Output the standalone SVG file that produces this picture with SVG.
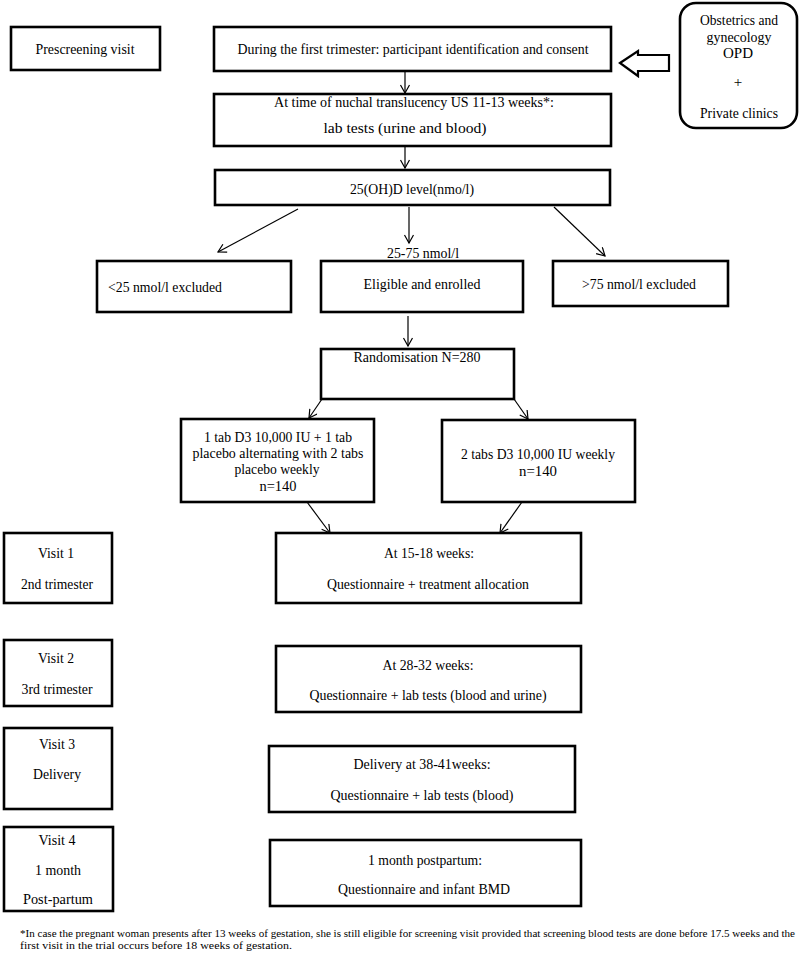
<svg xmlns="http://www.w3.org/2000/svg" width="800" height="957" viewBox="0 0 800 957">
<defs>
<style>
.box{fill:#fff;stroke:#000;stroke-width:2.6}
.t{font-family:"Liberation Serif","Times New Roman",serif;font-size:15px;fill:#000;text-anchor:middle}
.tl{font-family:"Liberation Serif","Times New Roman",serif;font-size:15px;fill:#000}
.fn{font-family:"Liberation Serif","Times New Roman",serif;font-size:11px;fill:#000}
.c{fill:none;stroke:#000;stroke-width:1.2}
</style>
<marker id="ah" markerUnits="userSpaceOnUse" markerWidth="12" markerHeight="12" refX="9" refY="5" orient="auto">
<path d="M1,0.5 L9,5 L1,9.5" fill="none" stroke="#000" stroke-width="1.2"/>
</marker>
</defs>
<rect width="800" height="957" fill="#fff"/>

<g id="connectors">
<line class="c" x1="405" y1="71" x2="405" y2="93" marker-end="url(#ah)"/>
<line class="c" x1="405" y1="118" x2="405" y2="168" marker-end="url(#ah)"/>
<line class="c" x1="298" y1="209" x2="218" y2="252" marker-end="url(#ah)"/>
<line class="c" x1="409" y1="207" x2="409" y2="243" marker-end="url(#ah)"/>
<line class="c" x1="554" y1="207" x2="605" y2="256" marker-end="url(#ah)"/>
<line class="c" x1="408" y1="316" x2="408" y2="346" marker-end="url(#ah)"/>
<line class="c" x1="322" y1="399" x2="309" y2="418" marker-end="url(#ah)"/>
<line class="c" x1="514" y1="399" x2="528" y2="419" marker-end="url(#ah)"/>
<line class="c" x1="307" y1="502" x2="330" y2="533" marker-end="url(#ah)"/>
<line class="c" x1="522" y1="502" x2="500" y2="533" marker-end="url(#ah)"/>
<polygon points="620,63 638,51 638,55 669,55 669,71 638,71 638,76" fill="#fff" stroke="#000" stroke-width="2.2"/>
</g>

<g id="prescreening">
<rect class="box" x="11" y="27" width="149" height="43"/>
<text class="t" x="85" y="54" textLength="99" lengthAdjust="spacingAndGlyphs">Prescreening visit</text>
</g>

<g id="first-trimester">
<rect class="box" x="214" y="27" width="397" height="44"/>
<text class="t" x="413" y="54" textLength="351" lengthAdjust="spacingAndGlyphs">During the first trimester: participant identification and consent</text>
</g>

<g id="obstetrics">
<rect class="box" x="680" y="3" width="117" height="125" rx="16" ry="16"/>
<text class="t" x="739" y="25" textLength="78" lengthAdjust="spacingAndGlyphs">Obstetrics and</text>
<text class="t" x="739" y="42" textLength="65" lengthAdjust="spacingAndGlyphs">gynecology</text>
<text class="t" x="738" y="58" textLength="30" lengthAdjust="spacingAndGlyphs">OPD</text>
<text class="t" x="738" y="87">+</text>
<text class="t" x="739" y="118" textLength="78" lengthAdjust="spacingAndGlyphs">Private clinics</text>
</g>

<g id="nuchal">
<rect class="box" x="214" y="94" width="397" height="52"/>
<text class="t" x="414" y="107" textLength="280" lengthAdjust="spacingAndGlyphs">At time of nuchal translucency US 11-13 weeks*:</text>
<text class="t" x="405" y="133" textLength="163" lengthAdjust="spacingAndGlyphs">lab tests (urine and blood)</text>
</g>

<g id="level">
<rect class="box" x="215" y="170" width="395" height="35"/>
<text class="t" x="412" y="194" textLength="124" lengthAdjust="spacingAndGlyphs">25(OH)D level(nmo/l)</text>
</g>

<text class="t" x="423" y="258" textLength="72" lengthAdjust="spacingAndGlyphs">25-75 nmol/l</text>

<g id="low">
<rect class="box" x="97" y="261" width="194" height="51"/>
<text class="tl" x="108" y="292" textLength="114" lengthAdjust="spacingAndGlyphs">&lt;25 nmol/l excluded</text>
</g>

<g id="eligible">
<rect class="box" x="321" y="261" width="202" height="51"/>
<text class="t" x="422" y="289" textLength="117" lengthAdjust="spacingAndGlyphs">Eligible and enrolled</text>
</g>

<g id="high">
<rect class="box" x="553" y="261" width="175" height="45"/>
<text class="t" x="639" y="289" textLength="114" lengthAdjust="spacingAndGlyphs">&gt;75 nmol/l excluded</text>
</g>

<g id="randomisation">
<rect class="box" x="321" y="349" width="193" height="50"/>
<text class="t" x="417" y="362" textLength="127" lengthAdjust="spacingAndGlyphs">Randomisation N=280</text>
</g>

<g id="arm1">
<rect class="box" x="181" y="419" width="193" height="83"/>
<text class="t" x="278" y="442" textLength="148" lengthAdjust="spacingAndGlyphs">1 tab D3 10,000 IU + 1 tab</text>
<text class="t" x="278" y="458" textLength="171" lengthAdjust="spacingAndGlyphs">placebo alternating with 2 tabs</text>
<text class="t" x="277" y="474" textLength="85" lengthAdjust="spacingAndGlyphs">placebo weekly</text>
<text class="t" x="278" y="491" textLength="37" lengthAdjust="spacingAndGlyphs">n=140</text>
</g>

<g id="arm2">
<rect class="box" x="442" y="420" width="193" height="82"/>
<text class="t" x="538" y="459" textLength="154" lengthAdjust="spacingAndGlyphs">2 tabs D3 10,000 IU weekly</text>
<text class="t" x="538" y="476" textLength="38" lengthAdjust="spacingAndGlyphs">n=140</text>
</g>

<g id="visit1">
<rect class="box" x="4" y="533" width="108" height="70"/>
<text class="t" x="56" y="558" textLength="36" lengthAdjust="spacingAndGlyphs">Visit 1</text>
<text class="t" x="57" y="589" textLength="72" lengthAdjust="spacingAndGlyphs">2nd trimester</text>
</g>

<g id="week15">
<rect class="box" x="276" y="533" width="305" height="70"/>
<text class="t" x="429" y="558" textLength="90" lengthAdjust="spacingAndGlyphs">At 15-18 weeks:</text>
<text class="t" x="428" y="589" textLength="202" lengthAdjust="spacingAndGlyphs">Questionnaire + treatment allocation</text>
</g>

<g id="visit2">
<rect class="box" x="4" y="640" width="108" height="66"/>
<text class="t" x="56" y="663" textLength="36" lengthAdjust="spacingAndGlyphs">Visit 2</text>
<text class="t" x="57" y="694" textLength="71" lengthAdjust="spacingAndGlyphs">3rd trimester</text>
</g>

<g id="week28">
<rect class="box" x="276" y="646" width="305" height="66"/>
<text class="t" x="428" y="670" textLength="91" lengthAdjust="spacingAndGlyphs">At 28-32 weeks:</text>
<text class="t" x="428" y="700" textLength="237" lengthAdjust="spacingAndGlyphs">Questionnaire + lab tests (blood and urine)</text>
</g>

<g id="visit3">
<rect class="box" x="4" y="728" width="108" height="81"/>
<text class="t" x="57" y="749" textLength="36" lengthAdjust="spacingAndGlyphs">Visit 3</text>
<text class="t" x="57" y="779" textLength="48" lengthAdjust="spacingAndGlyphs">Delivery</text>
</g>

<g id="delivery">
<rect class="box" x="269" y="746" width="306" height="66"/>
<text class="t" x="422" y="769" textLength="137" lengthAdjust="spacingAndGlyphs">Delivery at 38-41weeks:</text>
<text class="t" x="422" y="800" textLength="183" lengthAdjust="spacingAndGlyphs">Questionnaire + lab tests (blood)</text>
</g>

<g id="visit4">
<rect class="box" x="4" y="827" width="109" height="84"/>
<text class="t" x="57" y="845" textLength="37" lengthAdjust="spacingAndGlyphs">Visit 4</text>
<text class="t" x="58" y="875" textLength="46" lengthAdjust="spacingAndGlyphs">1 month</text>
<text class="t" x="58" y="904" textLength="70" lengthAdjust="spacingAndGlyphs">Post-partum</text>
</g>

<g id="postpartum">
<rect class="box" x="270" y="840" width="311" height="66"/>
<text class="t" x="425" y="865" textLength="114" lengthAdjust="spacingAndGlyphs">1 month postpartum:</text>
<text class="t" x="424" y="894" textLength="172" lengthAdjust="spacingAndGlyphs">Questionnaire and infant BMD</text>
</g>

<g id="footnote">
<text class="fn" x="20" y="937" textLength="775" lengthAdjust="spacingAndGlyphs">*In case the pregnant woman presents after 13 weeks of gestation, she is still eligible for screening visit provided that screening blood tests are done before 17.5 weeks and the</text>
<text class="fn" x="20" y="949" textLength="272" lengthAdjust="spacingAndGlyphs">first visit in the trial occurs before 18 weeks of  gestation.</text>
</g>
</svg>
